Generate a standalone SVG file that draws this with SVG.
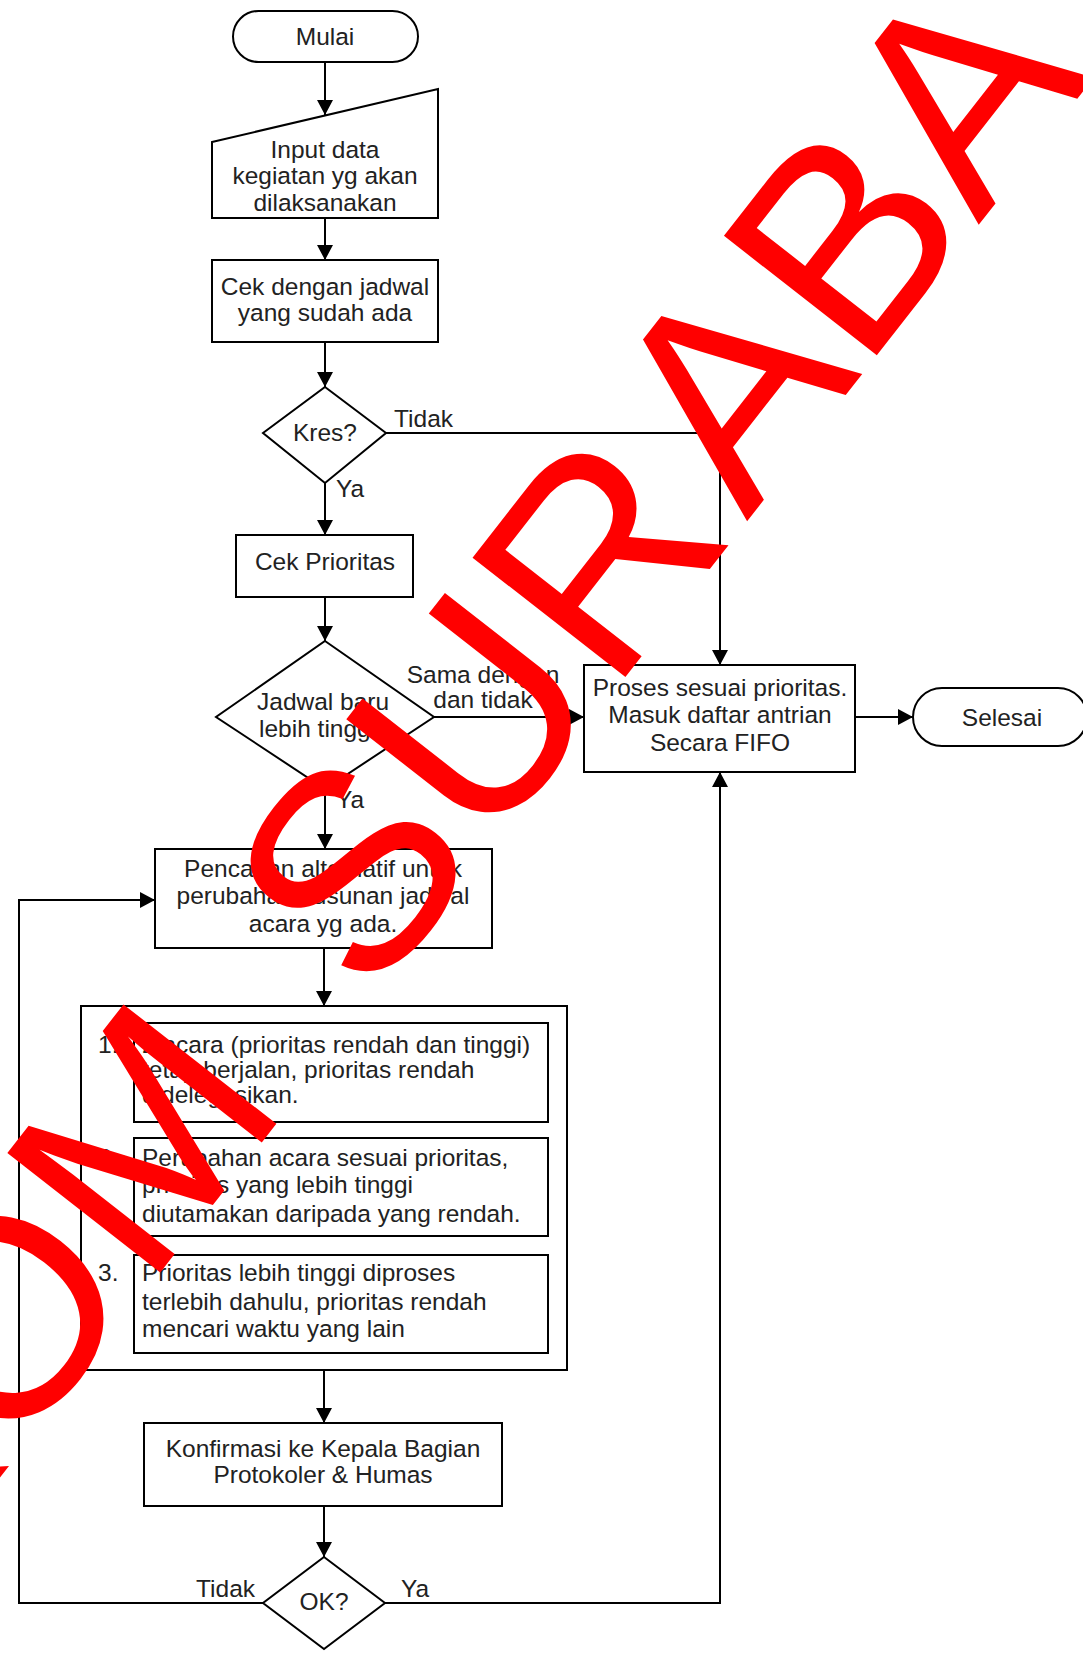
<svg xmlns="http://www.w3.org/2000/svg" width="1083" height="1653" viewBox="0 0 1083 1653">
<defs>
<style>
.shape{fill:#fff;stroke:#000;stroke-width:2}
.t{font-family:"Liberation Sans",Arial,sans-serif;font-size:24.5px;fill:#222}
.c{text-anchor:middle}
.edge{fill:none;stroke:#000;stroke-width:2}
.wm{font-family:"Liberation Sans",Arial,sans-serif;font-size:282px;fill:#ff0000}
</style>
<marker id="ah" markerUnits="userSpaceOnUse" markerWidth="16" markerHeight="16" refX="15" refY="8" orient="auto">
<path d="M0,0 L15,8 L0,16 z" fill="#000"/>
</marker>
</defs>
<rect width="1083" height="1653" fill="#fff"/>

<g id="connectors">
<path class="edge" d="M325,62 V115" marker-end="url(#ah)"/>
<path class="edge" d="M325,218 V260" marker-end="url(#ah)"/>
<path class="edge" d="M325,342 V387" marker-end="url(#ah)"/>
<path class="edge" d="M325,483 V535" marker-end="url(#ah)"/>
<path class="edge" d="M386,433 H720 V665" marker-end="url(#ah)"/>
<path class="edge" d="M325,597 V641" marker-end="url(#ah)"/>
<path class="edge" d="M434,717 H584" marker-end="url(#ah)"/>
<path class="edge" d="M325,789 V849" marker-end="url(#ah)"/>
<path class="edge" d="M324,948 V1006" marker-end="url(#ah)"/>
<path class="edge" d="M324,1370 V1423" marker-end="url(#ah)"/>
<path class="edge" d="M324,1506 V1557" marker-end="url(#ah)"/>
<path class="edge" d="M385,1603 H720 V772" marker-end="url(#ah)"/>
<path class="edge" d="M263,1603 H19 V900 H155" marker-end="url(#ah)"/>
<path class="edge" d="M855,717 H913" marker-end="url(#ah)"/>
<text class="t" x="394" y="427">Tidak</text>
<text class="t" x="336" y="497">Ya</text>
<text class="t c" x="483" y="683">Sama dengan</text>
<text class="t c" x="483" y="708">dan tidak</text>
<text class="t" x="336" y="808">Ya</text>
<text class="t" x="196" y="1597">Tidak</text>
<text class="t" x="401" y="1597">Ya</text>
</g>

<g id="mulai">
<rect class="shape" x="233" y="11" width="185" height="51" rx="25.5"/>
<text class="t c" x="325" y="45">Mulai</text>
</g>
<g id="input">
<polygon class="shape" points="212,142 438,89 438,218 212,218"/>
<text class="t c" x="325" y="158">Input data</text>
<text class="t c" x="325" y="184">kegiatan yg akan</text>
<text class="t c" x="325" y="211">dilaksanakan</text>
</g>
<g id="cek-jadwal">
<rect class="shape" x="212" y="260" width="226" height="82"/>
<text class="t c" x="325" y="295">Cek dengan jadwal</text>
<text class="t c" x="325" y="321">yang sudah ada</text>
</g>
<g id="kres">
<polygon class="shape" points="325,387 386,433 325,483 263,433"/>
<text class="t c" x="325" y="441">Kres?</text>
</g>
<g id="cek-prioritas">
<rect class="shape" x="236" y="535" width="177" height="62"/>
<text class="t c" x="325" y="570">Cek Prioritas</text>
</g>
<g id="jadwal-baru">
<polygon class="shape" points="325,641 434,717 325,789 216,717"/>
<text class="t" x="257" y="710">Jadwal baru</text>
<text class="t" x="259" y="737">lebih tinggi?</text>
</g>
<g id="proses">
<rect class="shape" x="584" y="665" width="271" height="107"/>
<text class="t c" x="720" y="696">Proses sesuai prioritas.</text>
<text class="t c" x="720" y="723">Masuk daftar antrian</text>
<text class="t c" x="720" y="751">Secara FIFO</text>
</g>
<g id="selesai">
<rect class="shape" x="913" y="688" width="174" height="58" rx="29"/>
<text class="t c" x="1002" y="726">Selesai</text>
</g>
<g id="pencarian">
<rect class="shape" x="155" y="849" width="337" height="99"/>
<text class="t c" x="323" y="877">Pencarian alternatif untuk</text>
<text class="t c" x="323" y="904">perubahan susunan jadwal</text>
<text class="t c" x="323" y="932">acara yg ada.</text>
</g>
<g id="alternatif">
<rect class="shape" x="81" y="1006" width="486" height="364"/>
<text class="t" x="98" y="1053">1.</text>
<text class="t" x="98" y="1166">2.</text>
<text class="t" x="98" y="1281">3.</text>
<rect class="shape" x="134" y="1023" width="414" height="99"/>
<text class="t" x="142" y="1053">2 acara (prioritas rendah dan tinggi)</text>
<text class="t" x="142" y="1078">tetap berjalan, prioritas rendah</text>
<text class="t" x="142" y="1103">didelegasikan.</text>
<rect class="shape" x="134" y="1138" width="414" height="98"/>
<text class="t" x="142" y="1166">Perubahan acara sesuai prioritas,</text>
<text class="t" x="142" y="1193">prioritas yang lebih tinggi</text>
<text class="t" x="142" y="1222">diutamakan daripada yang rendah.</text>
<rect class="shape" x="134" y="1255" width="414" height="98"/>
<text class="t" x="142" y="1281">Prioritas lebih tinggi diproses</text>
<text class="t" x="142" y="1310">terlebih dahulu, prioritas rendah</text>
<text class="t" x="142" y="1337">mencari waktu yang lain</text>
</g>
<g id="konfirmasi">
<rect class="shape" x="144" y="1423" width="358" height="83"/>
<text class="t c" x="323" y="1457">Konfirmasi ke Kepala Bagian</text>
<text class="t c" x="323" y="1483">Protokoler &amp; Humas</text>
</g>
<g id="ok">
<polygon class="shape" points="324,1557 385,1603 324,1649 263,1603"/>
<text class="t c" x="324" y="1610">OK?</text>
</g>

<g id="watermark" transform="translate(370,1004) rotate(-52)">
<text class="wm" x="-1210" y="0">STIKOM</text>
<text class="wm" x="0" y="0">SUR</text>
<text class="wm" x="612" y="0">ABAYA</text>
</g>
</svg>
